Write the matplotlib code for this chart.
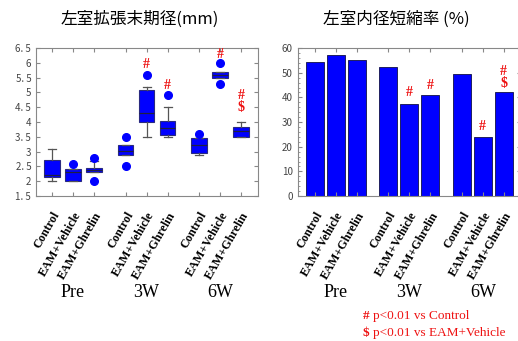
import matplotlib.pyplot as plt

plt.rcParams['font.family'] = ['Noto Sans CJK JP', 'DejaVu Sans']

groups = ['Pre', '3W', '6W']
treatments = ['Control', 'EAM+Vehicle', 'EAM+Ghrelin']
positions = [1, 2, 3, 4.5, 5.5, 6.5, 8, 9, 10]

# LVDd box stats (mm)
box_low = [2.0, 2.0, 2.32, 2.88, 3.5, 3.5, 2.88, 5.5, 3.5]
box_q1 = [2.15, 2.0, 2.32, 2.88, 4.0, 3.58, 2.95, 5.5, 3.5]
box_med = [2.2, 2.32, 2.38, 3.02, 4.32, 3.8, 3.22, 5.6, 3.7]
box_q3 = [2.72, 2.42, 2.45, 3.22, 5.1, 4.05, 3.45, 5.68, 3.85]
box_high = [3.1, 2.42, 2.7, 3.22, 5.2, 4.5, 3.45, 5.68, 4.0]
box_fliers = [[], [2.6], [2.8, 2.0], [3.5, 2.5], [5.6], [4.9], [3.6], [6.0, 5.3], []]

# fractional shortening (%)
fs_values = [54.5, 57.0, 55.0, 52.5, 37.2, 40.8, 49.6, 24.0, 42.1]

# significance marks: (index, text, y) per chart
left_marks = [(4, '#', 5.96), (5, '#', 5.25), (7, '#', 6.3), (8, '#', 4.9), (8, '$', 4.5)]
right_marks = [(4, '#', 41.8), (5, '#', 45), (7, '#', 28.4), (8, '#', 50.7), (8, '$', 45.8)]

fig = plt.figure(figsize=(5.18, 3.41), dpi=100)
ax1 = fig.add_axes([0.0695, 0.425, 0.4285, 0.434])
ax2 = fig.add_axes([0.575, 0.425, 0.43, 0.434])

stats = []
for i in range(len(positions)):
    stats.append(dict(whislo=box_low[i], q1=box_q1[i], med=box_med[i],
                      q3=box_q3[i], whishi=box_high[i], fliers=box_fliers[i]))
ax1.bxp(stats, positions=positions, widths=0.75, patch_artist=True,
        boxprops=dict(facecolor='#0000ff', edgecolor='#2a2a80', linewidth=0.8),
        medianprops=dict(color='#202040', linewidth=0.9),
        whiskerprops=dict(color='#555555', linewidth=0.9),
        capprops=dict(color='#555555', linewidth=0.9),
        flierprops=dict(marker='o', markerfacecolor='#0000ff', markeredgecolor='#0000ff',
                        markersize=5.5))
ax1.set_ylim(1.5, 6.5)
ax1.set_xlim(0.24, 10.8)
yt = [1.5 + 0.5 * k for k in range(11)]
ax1.set_yticks(yt)
ax1.set_yticklabels([('%g' % v).replace('.', '. ') for v in yt])

ax2.bar(positions, fs_values, width=0.87, color='#0000ff', edgecolor='#202060', linewidth=0.7)
ax2.set_ylim(0, 60)
ax2.set_xlim(0.2, 10.8)
ax2.set_yticks(range(0, 61, 10))
ax2.set_yticks(range(0, 61, 2), minor=True)

for ax, marks in [(ax1, left_marks), (ax2, right_marks)]:
    for s in ax.spines.values():
        s.set_color('#888888')
    ax.tick_params(axis='both', direction='in', top=True, right=True, colors='#888888',
                   labelcolor='#444444', labelsize=7, length=3, width=0.8)
    ax.tick_params(axis='y', which='minor', direction='in', right=True, length=1.5, color='#888888')
    ax.set_xticks(positions)
    ax.set_xticklabels(treatments * 3, family='Liberation Serif', fontweight='bold',
                       fontsize=8.7, rotation=60, ha='right', rotation_mode='anchor',
                       color='black')
    ax.tick_params(axis='x', pad=10)
    for i, t, y in marks:
        ax.text(positions[i], y, '\\' + t if t == '$' else t, color='#ee1111',
                family='Liberation Serif', fontweight='bold', fontsize=10,
                ha='center', va='center')
    for g, name in enumerate(groups):
        ax.text(positions[3 * g + 1], -0.65, name, transform=ax.get_xaxis_transform(),
                family='Liberation Serif', fontsize=13, ha='center', va='center')

fig.text(0.27, 0.945, '左室拡張末期径(mm)', fontsize=12, ha='center', va='center')
fig.text(0.765, 0.945, '左室内径短縮率 (%)', fontsize=12, ha='center', va='center')

fig.text(0.70, 0.072, '#', color='#ee1111', family='Liberation Serif', fontweight='bold', fontsize=9.5, va='center')
fig.text(0.721, 0.072, 'p<0.01 vs Control', color='#ee1111', family='Liberation Serif', fontsize=9.5, va='center')
fig.text(0.70, 0.022, '\\$', color='#ee1111', family='Liberation Serif', fontweight='bold', fontsize=9.5, va='center')
fig.text(0.721, 0.022, 'p<0.01 vs EAM+Vehicle', color='#ee1111', family='Liberation Serif', fontsize=9.5, va='center')

fig.savefig('out.png', dpi=100)
